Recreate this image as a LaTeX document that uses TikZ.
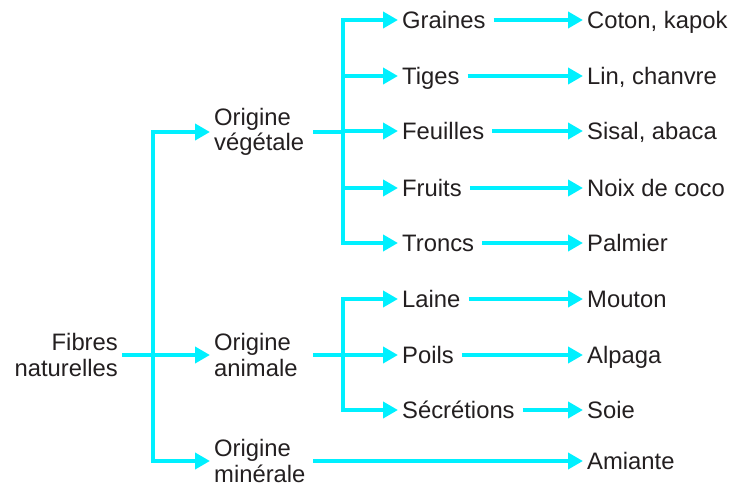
\documentclass[tikz,border=0pt]{standalone}
\usepackage{fontspec}
\setmainfont{Liberation Sans}
\usetikzlibrary{positioning,arrows.meta}
\definecolor{fibrecyan}{RGB}{0,240,255}
\definecolor{fibretext}{RGB}{35,31,32}

\begin{document}
\begin{tikzpicture}[x=1pt,y=-1pt,>={Triangle[length=15pt,width=16pt]},
    link/.style={draw=fibrecyan,line width=4.8pt},
    txt/.style={text=fibretext,font=\fontsize{23.8}{25.5}\selectfont,inner sep=4pt},
    word/.style={txt,text height=17pt,text depth=0pt,anchor=west},
    origine/.style={txt,text width=95pt,align=left,anchor=west}]
        \useasboundingbox (0,0) rectangle (731,490);
        % root and the three origins
        \node[txt,align=right,anchor=east] (fibres) at (122,355) {Fibres\\naturelles};
        \coordinate (rootjoint) at (153,355);
        \node[origine] (vegetale) at (210,132) {Origine\\végétale};
        \node[origine] (animale) at (210,355) {Origine\\animale};
        \node[origine] (minerale) at (210,461) {Origine\\minérale};
        \draw[link] (fibres.east) -- (rootjoint);
        \draw[link,->] (rootjoint) |- (vegetale.west);
        \draw[link,->] (rootjoint) |- (minerale.west);
        \draw[link,->] (rootjoint) -- (animale.west);
        % vegetal fibres
        \coordinate (vegjoint) at (343,132);
        \draw[link] (vegetale.east) -- (vegjoint);
        \foreach \y/\organ/\plant in {20/Graines/{Coton, kapok},76/Tiges/{Lin, chanvre},131/Feuilles/{Sisal, abaca},188/Fruits/{Noix de coco},243/Troncs/Palmier} {
            \node[word] (organ\y) at (398,\y) {\organ};
            \node[word] (plant\y) at (583,\y) {\plant};
            \draw[link,->] (vegjoint) |- (organ\y.west);
            \draw[link,->,shorten <=4pt] (organ\y) -- (plant\y);
        }
        % animal fibres
        \coordinate (anijoint) at (343,355);
        \draw[link] (animale.east) -- (anijoint);
        \foreach \y/\organ/\plant in {299/Laine/Mouton,355/Poils/Alpaga,410/Sécrétions/Soie} {
            \node[word] (organ\y) at (398,\y) {\organ};
            \node[word] (plant\y) at (583,\y) {\plant};
            \draw[link,->] (anijoint) |- (organ\y.west);
            \draw[link,->,shorten <=4pt] (organ\y) -- (plant\y);
        }
        % mineral fibre
        \node[word] (amiante) at (583,461) {Amiante};
        \draw[link,->] (minerale.east) -- (amiante.west);
    \end{tikzpicture}
\end{document}
